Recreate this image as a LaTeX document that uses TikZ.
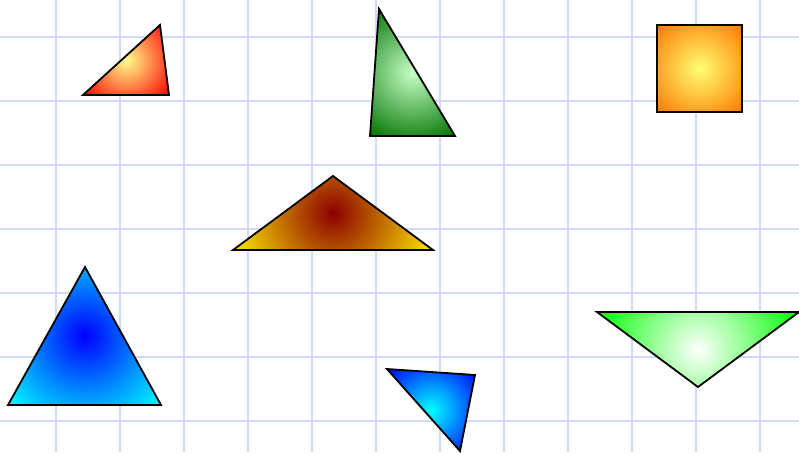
\documentclass[tikz,border=0pt]{standalone}
\definecolor{gridblue}{RGB}{206,218,247}
\tikzset{
  glow/.style n args={3}{path picture={\shade[inner color=#1, outer color=#2]
      (path picture bounding box.center) circle (#3);}},
  shape line/.style={draw=black, line width=1.8pt}
}
\begin{document}
\begin{tikzpicture}[x=1pt, y=-1pt, line join=miter]
    \useasboundingbox (0,0) rectangle (799,452);
    \foreach \gx in {56,120,...,760} \draw[gridblue, line width=1.8pt] (\gx,0) -- (\gx,452);
    \foreach \gy in {37,101,...,421} \draw[gridblue, line width=1.8pt] (0,\gy) -- (799,\gy);
    \draw[shape line, glow={yellow!45}{red}{55pt}] (83,95) -- (160,25) -- (169,95) -- cycle;
    \draw[shape line, glow={green!22}{green!45!black}{76pt}] (379,9) -- (370,136) -- (455,136) -- cycle;
    \draw[shape line, glow={yellow!55}{orange!95!red}{61pt}] (657,25) rectangle (742,112);
    \draw[shape line, glow={red!55!black}{yellow!92!red}{107pt}] (233,250) -- (333,176) -- (433,250) -- cycle;
    \draw[shape line, glow={blue}{cyan}{103pt}] (85,267) -- (8,405) -- (161,405) -- cycle;
    \draw[shape line, glow={cyan}{blue}{60pt}] (387,369) -- (475,375) -- (460,451) -- cycle;
    \draw[shape line, glow={white}{green}{108pt}] (597,312) -- (799,312) -- (698,387) -- cycle;
\end{tikzpicture}
\end{document}
